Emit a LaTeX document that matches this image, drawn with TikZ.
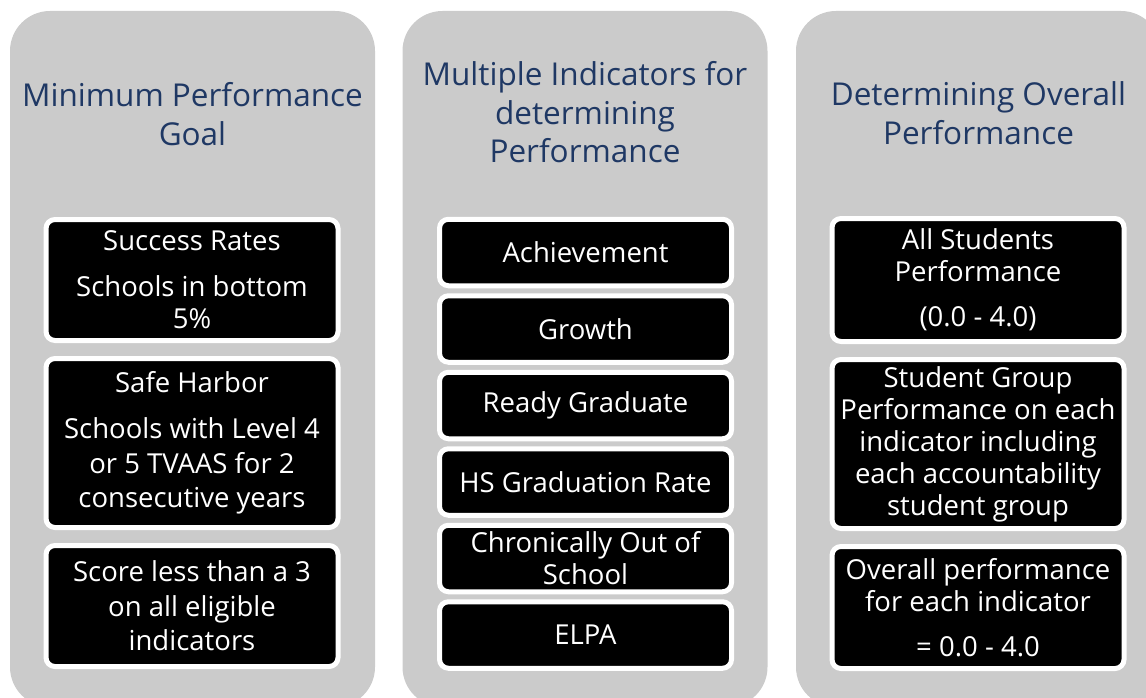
\documentclass[tikz,border=0pt]{standalone}
\usepackage{fontspec}
\setmainfont{Open Sans}
\definecolor{colgray}{RGB}{203,203,203}
\definecolor{titleblue}{RGB}{31,56,100}
\begin{document}
\begin{tikzpicture}[x=1pt,y=-1pt,
  column/.style={fill=colgray, rounded corners=40pt, inner sep=0pt, minimum width=365pt, minimum height=696pt},
  title/.style={text=titleblue, align=center, inner sep=0pt, font=\fontsize{31.5}{38.5}\selectfont},
  box/.style={fill=black, draw=white, line width=5pt, rounded corners=9pt, minimum width=292pt,
    text=white, align=center, inner sep=0pt, font=\fontsize{27.5}{32}\selectfont},
  loosebox/.style={box, font=\fontsize{27.5}{34.5}\selectfont},
]
\useasboundingbox (0,0) rectangle (1146,698);
\clip (0,0) rectangle (1146,698);

% columns
\node[column] (col1) at (192.5,359) {};
\node[column] (col2) at (585,359) {};
\node[column] (col3) at (978.5,359) {};

% titles
\node[title] (t1) at (192.5,114) {Minimum Performance\\Goal};
\node[title] (t2) at (585,112.5) {Multiple Indicators for\\determining\\Performance};
\node[title] (t3) at (978.5,113) {Determining Overall\\Performance};

% column 1
\node[box, minimum height=121pt] (a1) at (192,280) {Success Rates\\[14pt]Schools in bottom\\5\%};
\node[loosebox, minimum height=169pt] (a2) at (192,443) {Safe Harbor\\[12pt]Schools with Level 4\\or 5 TVAAS for 2\\consecutive years};
\node[loosebox, minimum height=121pt] (a3) at (192,606) {Score less than a 3\\on all eligible\\indicators};

% column 2
\node[box, minimum height=66.5pt] (b1) at (585.5,252.5) {Achievement};
\node[box, minimum height=66.5pt] (b2) at (585.5,329) {Growth};
\node[box, minimum height=66.5pt] (b3) at (585.5,405.5) {Ready Graduate};
\node[box, minimum height=66.5pt] (b4) at (585.5,482) {HS Graduation Rate};
\node[box, minimum height=66.5pt] (b5) at (585.5,558.5) {Chronically Out of\\School};
\node[box, minimum height=66.5pt] (b6) at (585.5,635) {ELPA};

% column 3
\node[box, minimum height=123pt] (c1) at (978,280) {All Students\\Performance\\[13pt](0.0 - 4.0)};
\node[box, minimum height=169pt] (c2) at (978,444) {Student Group\\Performance on each\\indicator including\\each accountability\\student group};
\node[box, minimum height=122pt] (c3) at (978,607.5) {Overall performance\\for each indicator\\[13pt]= 0.0 - 4.0};
\end{tikzpicture}
\end{document}
